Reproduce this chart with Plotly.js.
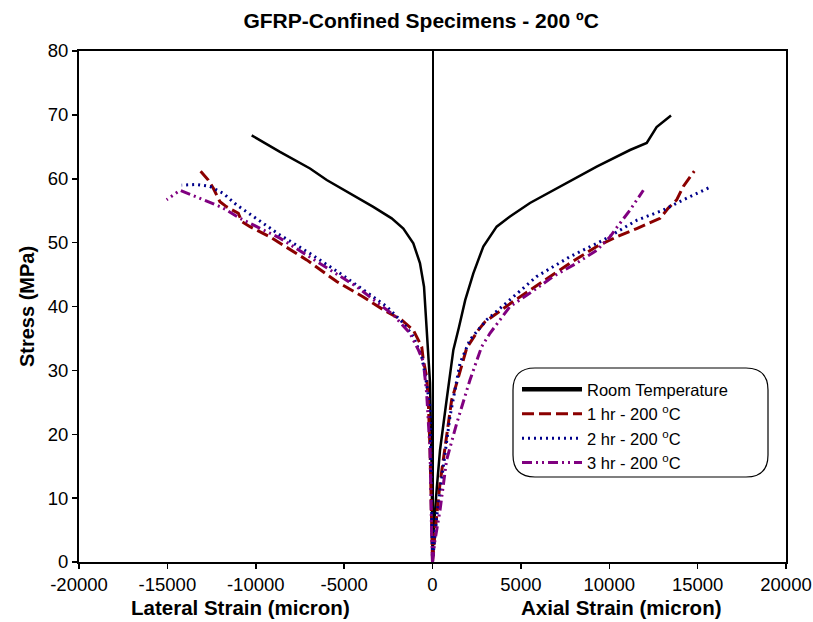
<!DOCTYPE html>
<html>
<head>
<meta charset="utf-8">
<script src="https://cdn.plot.ly/plotly-3.0.1.min.js"></script>
<style>html,body{margin:0;padding:0;background:#fff;}#chart{width:813px;height:622px;}</style>
</head>
<body>
<div id="chart"></div>
<script>
// ---- Data (strain in micron, stress in MPa) ----
const seriesNames = ["Room Temperature", "1 hr - 200 <sup>o</sup>C", "2 hr - 200 <sup>o</sup>C", "3 hr - 200 <sup>o</sup>C"];

const rtLatX = [0, -50, -140, -240, -330, -480, -710, -1085, -1650, -2310, -3350, -4855, -5985, -6930, -8630, -10230];
const rtLatY = [0, 14.9, 28.0, 32.7, 37.9, 43.1, 46.8, 49.9, 52.2, 53.8, 55.6, 58.0, 59.8, 61.6, 64.2, 66.8];
const rtAxX = [0, 50, 235, 425, 800, 1180, 1500, 1850, 2310, 2875, 3630, 4385, 5515, 7030, 8160, 9290, 11175, 12120, 12680, 13495];
const rtAxY = [0, 4.5, 11.3, 17.5, 25.4, 33.2, 36.8, 41.0, 45.2, 49.4, 52.5, 54.1, 56.2, 58.5, 60.3, 61.9, 64.5, 65.6, 68.1, 69.9];

const h1LatX = [0, -50, -140, -240, -330, -520, -610, -1085, -1745, -2785, -3915, -5420, -7120, -9195, -10325, -10795, -10985, -11645, -12025, -12400, -12685, -13155];
const h1LatY = [0, 7.1, 17.5, 25.4, 29.0, 31.6, 33.7, 36.3, 37.9, 39.5, 41.5, 43.9, 47.3, 50.9, 52.5, 53.3, 54.6, 55.6, 56.4, 58.5, 59.8, 61.3];
const h1AxX = [0, 140, 425, 800, 1085, 1370, 1935, 2590, 2970, 4570, 6080, 7780, 9290, 10420, 11555, 12870, 13340, 13815, 14190, 14810];
const h1AxY = [0, 4.5, 12.3, 20.1, 25.4, 28.0, 33.5, 36.3, 37.6, 40.8, 43.6, 46.8, 49.4, 50.9, 52.2, 53.8, 55.4, 56.7, 58.8, 61.2];

const h2LatX = [0, -60, -140, -425, -610, -1085, -1650, -2590, -3915, -5235, -6930, -8630, -10140, -11080, -11835, -12590, -13340, -14190];
const h2LatY = [0, 8.4, 24.3, 29.5, 32.1, 35.3, 37.4, 40.0, 42.6, 45.2, 48.3, 51.2, 54.1, 55.9, 57.7, 58.8, 59.1, 59.0];
const h2AxX = [0, 235, 610, 990, 1555, 2120, 3065, 4570, 5895, 7780, 9665, 11555, 13060, 14190, 15795];
const h2AxY = [0, 7.1, 14.9, 22.8, 31.1, 34.8, 37.9, 41.5, 44.7, 47.8, 50.4, 53.5, 55.1, 56.7, 58.8];

const h3LatX = [0, -50, -140, -330, -520, -800, -1275, -2220, -4290, -6365, -8630, -10890, -11835, -12495, -13155, -14285, -15040];
const h3LatY = [0, 4.5, 17.5, 26.4, 31.4, 33.2, 35.8, 38.7, 43.1, 46.8, 50.7, 53.8, 55.4, 56.2, 56.9, 58.2, 56.7];
const h3AxX = [0, 140, 425, 800, 1370, 2120, 2780, 3250, 4385, 5515, 6835, 8160, 9290, 10045, 10325, 11175, 11930];
const h3AxY = [0, 3.4, 8.1, 16.0, 21.7, 28.5, 33.7, 35.8, 40.0, 42.1, 44.7, 46.8, 48.8, 50.9, 52.0, 55.1, 58.2];

const xTicks = [-20000, -15000, -10000, -5000, 0, 5000, 10000, 15000, 20000];
const yTicks = [0, 10, 20, 30, 40, 50, 60, 70, 80];

// ---- Styles ----
const styles = [
  {color: "#000000", width: 2.5, dash: "solid"},
  {color: "#8B0000", width: 3, dash: "12px,5px"},
  {color: "#00008B", width: 3, dash: "2px,4px"},
  {color: "#800080", width: 3, dash: "10px,4px,2px,4px,2px,4px"}
];
const data = [
  [rtLatX, rtLatY, rtAxX, rtAxY],
  [h1LatX, h1LatY, h1AxX, h1AxY],
  [h2LatX, h2LatY, h2AxX, h2AxY],
  [h3LatX, h3LatY, h3AxX, h3AxY]
];

const traces = [];
data.forEach((d, i) => {
  const st = styles[i];
  traces.push({x: d[0], y: d[1], type: "scatter", mode: "lines", name: seriesNames[i],
    legendgroup: "g" + i, showlegend: false, line: {color: st.color, width: st.width, dash: st.dash}});
  traces.push({x: d[2], y: d[3], type: "scatter", mode: "lines", name: seriesNames[i],
    legendgroup: "g" + i, showlegend: false, line: {color: st.color, width: st.width, dash: st.dash}});
});
data.forEach((d, i) => {
  const st = styles[i];
  traces.push({x: [null], y: [null], type: "scatter", mode: "lines", name: seriesNames[i],
    legendgroup: "g" + i, showlegend: true,
    line: {color: st.color, width: i === 0 ? 4.5 : st.width, dash: st.dash}});
});

const L = 79, R = 786, T = 51, B = 562;
function px2paperX(p) { return (p - L) / (R - L); }
function px2paperY(p) { return (B - p) / (B - T); }
function roundRect(x0, y0, x1, y1, r) {
  const X = px2paperX, Y = px2paperY;
  return `M ${X(x0 + r)} ${Y(y0)} L ${X(x1 - r)} ${Y(y0)} Q ${X(x1)} ${Y(y0)} ${X(x1)} ${Y(y0 + r)} ` +
    `L ${X(x1)} ${Y(y1 - r)} Q ${X(x1)} ${Y(y1)} ${X(x1 - r)} ${Y(y1)} ` +
    `L ${X(x0 + r)} ${Y(y1)} Q ${X(x0)} ${Y(y1)} ${X(x0)} ${Y(y1 - r)} ` +
    `L ${X(x0)} ${Y(y0 + r)} Q ${X(x0)} ${Y(y0)} ${X(x0 + r)} ${Y(y0)} Z`;
}

const font = "Arial, 'Liberation Sans', sans-serif";
const layout = {
  width: 813, height: 622,
  margin: {l: L, r: 813 - R, t: T, b: 622 - B},
  paper_bgcolor: "#ffffff", plot_bgcolor: "#ffffff",
  font: {family: font, size: 17, color: "#000"},
  title: {text: "<b>GFRP-Confined Specimens - 200 ºC</b>", x: 0.518, xanchor: "center", y: 0.967, yanchor: "middle",
    font: {family: font, size: 21, color: "#000"}},
  xaxis: {range: [-20000, 20000], tickvals: xTicks, ticktext: xTicks.map(String), ticks: "outside", ticklen: 5,
    tickwidth: 1.5, tickcolor: "#000", showgrid: false, zeroline: true, zerolinecolor: "#000", zerolinewidth: 2,
    showline: true, linecolor: "#000", linewidth: 2, mirror: true, tickfont: {family: font, size: 18.5}, fixedrange: true},
  yaxis: {range: [0, 80], tickvals: yTicks, ticks: "outside", ticklen: 5, tickwidth: 1.5, tickcolor: "#000",
    showgrid: false, zeroline: false, showline: true, linecolor: "#000", linewidth: 2, mirror: true,
    tickfont: {family: font, size: 18.5}, title: {text: "<b>Stress (MPa)</b>", font: {family: font, size: 20}, standoff: 8}, fixedrange: true},
  showlegend: true,
  legend: {x: px2paperX(517), y: px2paperY(372), xanchor: "left", yanchor: "top", bgcolor: "rgba(0,0,0,0)",
    borderwidth: 0, font: {family: font, size: 16.5}, itemwidth: 60, tracegroupgap: 0},
  shapes: [{type: "path", xref: "paper", yref: "paper", path: roundRect(513, 368, 768, 477, 22),
    line: {color: "#000", width: 1.2}, fillcolor: "rgba(255,255,255,1)", layer: "below"}],
  annotations: [
    {text: "<b>Lateral Strain (micron)</b>", xref: "paper", yref: "paper", x: px2paperX(240), y: px2paperY(607),
      xanchor: "center", yanchor: "middle", showarrow: false, font: {family: font, size: 20.5}},
    {text: "<b>Axial Strain (micron)</b>", xref: "paper", yref: "paper", x: px2paperX(621), y: px2paperY(607),
      xanchor: "center", yanchor: "middle", showarrow: false, font: {family: font, size: 20.5}}
  ]
};

Plotly.newPlot("chart", traces, layout, {displayModeBar: false, staticPlot: true});
</script>
</body>
</html>
